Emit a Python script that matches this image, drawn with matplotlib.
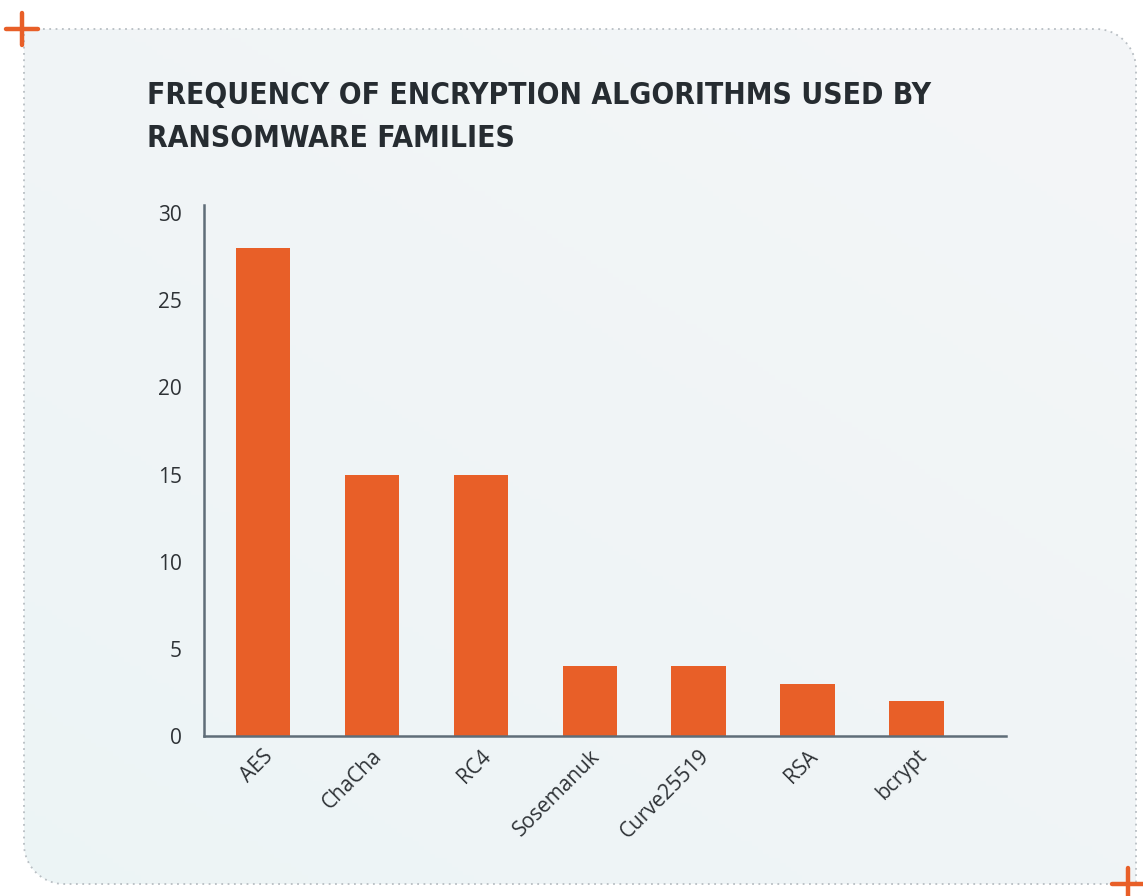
import numpy as np
import matplotlib
matplotlib.use("Agg")
import matplotlib.pyplot as plt
from matplotlib.patches import Polygon

algorithms = ["AES", "ChaCha", "RC4", "Sosemanuk", "Curve25519", "RSA", "bcrypt"]
families = [28, 15, 15, 4, 4, 3, 2]
y_ticks = [0, 5, 10, 15, 20, 25, 30]
title = "FREQUENCY OF ENCRYPTION ALGORITHMS USED BY\nRANSOMWARE FAMILIES"

ORANGE = "#e85f28"
INK = "#262c31"
SPINE = "#5f6d78"

W, H = 1143, 896
fig = plt.figure(figsize=(W / 100, H / 100), dpi=100)
fig.patch.set_facecolor("white")

# card background with a soft gradient, drawn in pixel space
bg = fig.add_axes([0, 0, 1, 1])
bg.set_xlim(0, W)
bg.set_ylim(H, 0)
bg.axis("off")

x0, y0, x1, y1, r = 24, 29, 1136, 884, 40
t = np.linspace(0, np.pi / 2, 20)
pts = [(x0, y0), (x1 - r, y0)]
pts += [(x1 - r + r * np.sin(a), y0 + r - r * np.cos(a)) for a in t]
pts += [(x1, y1), (x0 + r, y1)]
pts += [(x0 + r - r * np.sin(a), y1 - r + r * np.cos(a)) for a in t]
card = Polygon(pts, closed=True, facecolor="none", edgecolor="#b8bec3",
               linestyle=(0, (1, 2.5)), linewidth=1.3)
bg.add_patch(card)

gx, gy = np.meshgrid(np.linspace(0, 1, 200), np.linspace(0, 1, 200))
c_top = np.array([0.957, 0.963, 0.970])
c_bot = np.array([0.928, 0.957, 0.964])
mix = (0.55 * gy + 0.45 * (1 - gx))[..., None]
grad = c_top * (1 - mix) + c_bot * mix
img = bg.imshow(grad, extent=[x0, x1, y1, y0], aspect="auto", zorder=0)
img.set_clip_path(card)

# orange corner crosses
for cx, cy in [(22, 29), (1128, 884)]:
    bg.plot([cx - 16, cx + 16], [cy, cy], color=ORANGE, lw=3.2,
            solid_capstyle="round", zorder=3)
    bg.plot([cx, cx], [cy - 16, cy + 16], color=ORANGE, lw=3.2,
            solid_capstyle="round", zorder=3)

fig.text(147 / W, 1 - 81 / H, title, ha="left", va="top",
         fontsize=21.5, fontweight="heavy", fontstretch="condensed",
         color=INK, linespacing=1.6,
         family=["DejaVu Sans"])

ax = fig.add_axes([204 / W, 1 - 736 / H, (1006 - 204) / W, (736 - 205) / H])
ax.patch.set_alpha(0)
x = np.arange(len(algorithms))
ax.bar(x, families, width=0.5, color=ORANGE, zorder=2)

ax.set_xlim(-0.54, 6.82)
ax.set_ylim(0, 30.46)
ax.set_yticks(y_ticks)
ax.set_xticks(x)
ax.set_xticklabels(algorithms, rotation=45, ha="right", va="top",
                   rotation_mode="anchor")
ax.tick_params(axis="both", length=0, labelsize=15, colors="#2e3236")
ax.tick_params(axis="y", pad=16)
ax.tick_params(axis="x", pad=7)
for lab in ax.get_xticklabels() + ax.get_yticklabels():
    lab.set_family(["Open Sans", "DejaVu Sans"])

for side in ["top", "right"]:
    ax.spines[side].set_visible(False)
for side in ["left", "bottom"]:
    ax.spines[side].set_color(SPINE)
    ax.spines[side].set_linewidth(1.8)

fig.savefig("out.png", dpi=100)
